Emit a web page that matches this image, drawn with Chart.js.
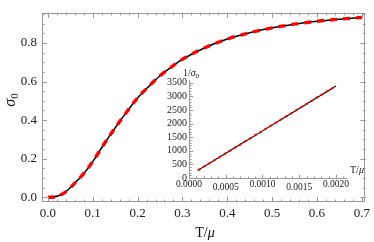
<!DOCTYPE html>
<html><head><meta charset="utf-8">
<script src="https://cdn.jsdelivr.net/npm/chart.js@4"></script>
<style>
html,body{margin:0;padding:0;background:#fff;}
#wrap{position:relative;width:374px;height:242px;overflow:hidden;}
#main{position:absolute;left:0;top:0;}
#inset{position:absolute;left:140px;top:60px;}
</style></head>
<body><div id="wrap"><canvas id="main" width="374" height="242"></canvas><canvas id="inset" width="234" height="135"></canvas></div>
<script>
// ---- data ----
const tOverMu = [0, 0.0125, 0.025, 0.0375, 0.05, 0.0625, 0.075, 0.0875, 0.1, 0.125, 0.15, 0.175, 0.2, 0.225, 0.25, 0.275, 0.3, 0.35, 0.4, 0.45, 0.5, 0.55, 0.6, 0.65, 0.7];
const sigma0 = [0, 0.002, 0.01, 0.025, 0.05, 0.08, 0.11, 0.145, 0.185, 0.275, 0.36, 0.44, 0.515, 0.575, 0.63, 0.675, 0.715, 0.775, 0.82, 0.853, 0.878, 0.897, 0.912, 0.923, 0.932];
const xTicks = [0, 0.1, 0.2, 0.3, 0.4, 0.5, 0.6, 0.7];
const yTicks = [0, 0.2, 0.4, 0.6, 0.8];
const insetT = [0.00012, 0.0005, 0.001, 0.0015, 0.002];
const insetInvSigma = [280, 907, 1731, 2556, 3380];
const insetXTicks = [0, 0.0005, 0.001, 0.0015, 0.002];
const insetYTicks = [0, 500, 1000, 1500, 2000, 2500, 3000, 3500];

const SERIF = "'Liberation Serif','DejaVu Serif',serif";
const pts = (xs, ys) => xs.map((x, i) => ({x, y: ys[i]}));

function drawMixed(ctx, parts, x, y, align) {
  // parts: [{t, size, italic, dy}]
  let w = 0;
  parts.forEach(p => { ctx.font = (p.italic ? 'italic ' : '') + p.size + 'px ' + SERIF; p.w = ctx.measureText(p.t).width; w += p.w; });
  let cx = align === 'center' ? x - w / 2 : (align === 'right' ? x - w : x);
  ctx.textBaseline = 'alphabetic'; ctx.textAlign = 'left';
  parts.forEach(p => { ctx.font = (p.italic ? 'italic ' : '') + p.size + 'px ' + SERIF; ctx.fillText(p.t, cx, y + (p.dy || 0)); cx += p.w; });
}

function range(a, b, s) { const r = []; for (let v = a; v <= b + s * 1e-6; v += s) r.push(+v.toFixed(8)); return r; }

const mainFrame = {
  id: 'mainFrame',
  afterDatasetsDraw(chart) {
    const {ctx, chartArea: a, scales: {x, y}} = chart;
    ctx.save();
    ctx.strokeStyle = '#999'; ctx.lineWidth = 1;
    ctx.strokeRect(Math.round(a.left) + 0.5, Math.round(a.top) + 0.5, Math.round(a.right - a.left) - 1, Math.round(a.bottom - a.top) - 1);
    ctx.beginPath();
    const xt = (v, L) => { const p = Math.round(x.getPixelForValue(v)) + 0.5; ctx.moveTo(p, a.bottom); ctx.lineTo(p, a.bottom - L); ctx.moveTo(p, a.top); ctx.lineTo(p, a.top + L); };
    const yt = (v, L) => { const p = Math.round(y.getPixelForValue(v)) + 0.5; ctx.moveTo(a.left, p); ctx.lineTo(a.left + L, p); ctx.moveTo(a.right, p); ctx.lineTo(a.right - L, p); };
    range(0, 0.7, 0.02).forEach(v => xt(v, 2.5));
    xTicks.forEach(v => xt(v, 5));
    range(0, 0.95, 0.05).forEach(v => yt(v, 2.5));
    yTicks.forEach(v => yt(v, 5));
    ctx.stroke();
    // axis titles
    ctx.fillStyle = '#111';
    drawMixed(ctx, [{t: 'T/', size: 14}, {t: 'μ', size: 14, italic: true}], 205, 237, 'center');
    ctx.translate(15, 100); ctx.rotate(-Math.PI / 2);
    drawMixed(ctx, [{t: 'σ', size: 16, italic: true}, {t: '0', size: 11, dy: 3}], 0, 0, 'center');
    ctx.restore();
  }
};

new Chart(document.getElementById('main'), {
  type: 'line',
  data: {datasets: [
    {label: 'fit', data: pts(tOverMu, sigma0), borderColor: '#ff0000', borderWidth: 3.4, borderDash: [7, 6], pointRadius: 0, cubicInterpolationMode: 'monotone', order: 0, borderCapStyle: 'butt'},
    {label: 'numerical', data: pts(tOverMu, sigma0), borderColor: '#000', borderWidth: 1.5, pointRadius: 0, cubicInterpolationMode: 'monotone', order: 1}
  ]},
  options: {
    responsive: false, devicePixelRatio: 1, animation: false,
    layout: {padding: {top: 1, right: 2, left: 0, bottom: 0}},
    plugins: {legend: {display: false}, tooltip: {enabled: false}},
    scales: {
      x: {type: 'linear', min: -0.0131, max: 0.708,
        afterBuildTicks: s => { s.ticks = xTicks.map(v => ({value: v})); },
        afterFit: s => { s.height = 40; },
        grid: {display: false, drawTicks: false}, border: {display: false},
        ticks: {padding: 4, maxRotation: 0, autoSkip: false, color: '#222', font: {family: SERIF, size: 13}, callback: v => Number(v).toFixed(1)}},
      y: {type: 'linear', min: -0.024, max: 0.956,
        afterBuildTicks: s => { s.ticks = yTicks.map(v => ({value: v})); },
        afterFit: s => { s.width = 42; },
        grid: {display: false, drawTicks: false}, border: {display: false},
        ticks: {padding: 5, autoSkip: false, color: '#222', font: {family: SERIF, size: 13}, callback: v => Number(v).toFixed(1)}}
    }
  },
  plugins: [mainFrame]
});

const insetAxes = {
  id: 'insetAxes',
  afterDatasetsDraw(chart) {
    const {ctx, chartArea: a, scales: {x, y}} = chart;
    ctx.save();
    ctx.strokeStyle = '#999'; ctx.lineWidth = 1;
    const L = Math.round(a.left) + 0.5, B = Math.round(a.bottom) + 0.5;
    ctx.beginPath();
    ctx.moveTo(L, B); ctx.lineTo(L, a.top); ctx.moveTo(L, B); ctx.lineTo(a.right, B);
    range(0, 0.0021, 0.0001).forEach(v => { const p = Math.round(x.getPixelForValue(v)) + 0.5; ctx.moveTo(p, B); ctx.lineTo(p, B - 2); });
    insetXTicks.forEach(v => { const p = Math.round(x.getPixelForValue(v)) + 0.5; ctx.moveTo(p, B); ctx.lineTo(p, B - 3.5); });
    range(0, 3500, 100).forEach(v => { const p = Math.round(y.getPixelForValue(v)) + 0.5; ctx.moveTo(L, p); ctx.lineTo(L + 2, p); });
    insetYTicks.forEach(v => { const p = Math.round(y.getPixelForValue(v)) + 0.5; ctx.moveTo(L, p); ctx.lineTo(L + 3.5, p); });
    ctx.stroke();
    ctx.fillStyle = '#222';
    ctx.font = '10px ' + SERIF; ctx.textAlign = 'right'; ctx.textBaseline = 'middle';
    insetYTicks.forEach(v => ctx.fillText(String(v), a.left - 2, y.getPixelForValue(v)));
    ctx.font = '9.5px ' + SERIF; ctx.textAlign = 'center'; ctx.textBaseline = 'middle';
    insetXTicks.forEach((v, i) => ctx.fillText(v.toFixed(4), x.getPixelForValue(v), a.bottom + 6 + (i % 2 ? 3.5 : 0)));
    drawMixed(ctx, [{t: '1/', size: 10}, {t: 'σ', size: 10, italic: true}, {t: '0', size: 7, dy: 2}], a.left + 2, a.top - 4, 'center');
    drawMixed(ctx, [{t: 'T/', size: 10}, {t: 'μ', size: 10, italic: true}], a.right + 3, a.bottom - 5, 'left');
    ctx.restore();
  }
};

new Chart(document.getElementById('inset'), {
  type: 'line',
  data: {datasets: [
    {label: 'fit', data: pts(insetT, insetInvSigma), borderColor: '#ff0000', borderWidth: 2, borderDash: [3, 3], pointRadius: 0, order: 0},
    {label: 'numerical', data: pts(insetT, insetInvSigma), borderColor: '#000', borderWidth: 1.1, pointRadius: 0, order: 1}
  ]},
  options: {
    responsive: false, devicePixelRatio: 1, animation: false,
    layout: {padding: {left: 49, right: 27, top: 20, bottom: 17}},
    plugins: {legend: {display: false}, tooltip: {enabled: false}},
    scales: {
      x: {type: 'linear', display: false, min: 0, max: 0.00215},
      y: {type: 'linear', display: false, min: 0, max: 3600}
    }
  },
  plugins: [insetAxes]
});
</script>
</body></html>
